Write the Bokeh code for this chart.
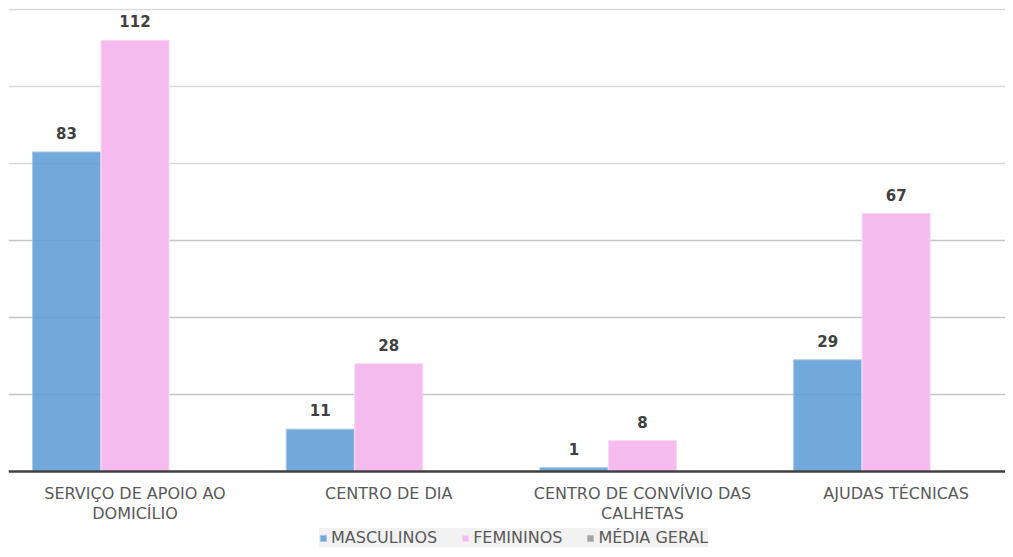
from bokeh.plotting import figure
from bokeh.models import (ColumnDataSource, Range1d, FixedTicker, Grid, Legend,
                          LegendItem, Span)
from bokeh.core.properties import value
from bokeh.embed import file_html
from bokeh.resources import INLINE

categories = ["SERVIÇO DE APOIO AO\nDOMICÍLIO", "CENTRO DE DIA",
              "CENTRO DE CONVÍVIO DAS\nCALHETAS", "AJUDAS TÉCNICAS"]
masculinos = [83, 11, 1, 29]
femininos = [112, 28, 8, 67]
media_geral = [0, 0, 0, 0]
series_names = ["MASCULINOS", "FEMININOS", "MÉDIA GERAL"]
y_ticks = [0, 20, 40, 60, 80, 100, 120]

pos = [i + 0.5 for i in range(len(categories))]
bw = 0.268
off = 0.27

src_m = ColumnDataSource(dict(x=[p_ - off for p_ in pos], y=masculinos,
                              t=[str(v) for v in masculinos]))
src_f = ColumnDataSource(dict(x=pos, y=femininos, t=[str(v) for v in femininos]))
src_g = ColumnDataSource(dict(x=[p_ + off for p_ in pos], y=media_geral))
src_c = ColumnDataSource(dict(x=pos, y=[0] * len(pos), t=categories))

p = figure(width=1005, height=549, output_backend="svg", toolbar_location=None,
           x_range=Range1d(0.0013, 3.931), y_range=Range1d(-20.26, 120.26),
           x_axis_location=None, y_axis_location=None,
           min_border_left=8, min_border_right=0,
           min_border_top=8, min_border_bottom=0)
p.outline_line_color = None
p.xgrid.grid_line_color = None
p.ygrid.grid_line_color = None

light = Grid(dimension=1, ticker=FixedTicker(ticks=y_ticks[4:]),
             grid_line_color="#d9d9d9", grid_line_width=1.5)
mid = Grid(dimension=1, ticker=FixedTicker(ticks=y_ticks[1:4]),
           grid_line_color="#c4c4c4", grid_line_width=1.5)
p.add_layout(light)
p.add_layout(mid)

r_m = p.vbar(x="x", top="y", width=bw, source=src_m, fill_color="#5b9bd5",
             fill_alpha=0.86, line_color="#a9c8ea", line_width=1)
r_f = p.vbar(x="x", top="y", width=bw, source=src_f, fill_color="#f6bbee",
             line_color="#fbd6f6", line_width=1)
r_g = p.vbar(x="x", top="y", width=bw, source=src_g, fill_color="#a5a5a5",
             line_color=None)

# category axis line at zero
p.add_layout(Span(location=y_ticks[0], dimension="width", line_color="#404040",
                  line_width=2.5))

for src in (src_m, src_f):
    p.text(x="x", y="y", text="t", source=src, text_align="center",
           text_baseline="bottom", y_offset=-13,
           text_font=value("DejaVu Sans"), text_font_style="bold",
           text_font_size="15px", text_color="#404040")

# category labels
p.text(x="x", y="y", text="t", source=src_c, text_align="center",
       text_baseline="top", y_offset=13, text_line_height=1.03,
       text_font=value("DejaVu Sans"), text_font_size="16px",
       text_color="#595959")

legend = Legend(items=[LegendItem(label=series_names[0], renderers=[r_m]),
                       LegendItem(label=series_names[1], renderers=[r_f]),
                       LegendItem(label=series_names[2], renderers=[r_g])],
                orientation="horizontal", location=(311, 2),
                glyph_width=8, glyph_height=8, label_standoff=4, spacing=24,
                padding=6, margin=0, label_height=16,
                label_text_font="DejaVu Sans", label_text_font_size="16px",
                label_text_color="#595959", background_fill_color="#f2f2f2",
                background_fill_alpha=1, border_line_color=None)
p.add_layout(legend, "center")

open("out.html", "w").write(file_html(p, INLINE))
